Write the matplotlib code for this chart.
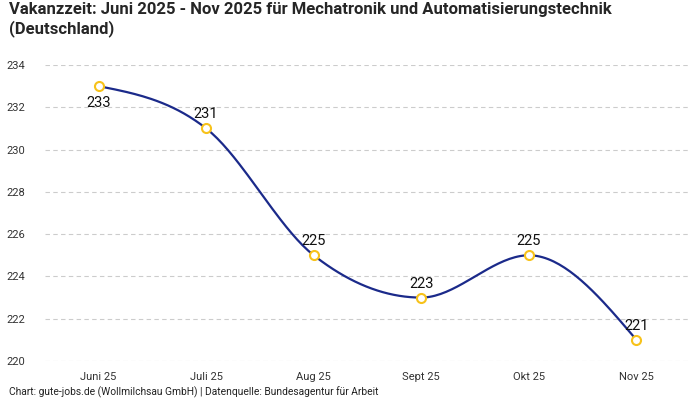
import numpy as np
import matplotlib.pyplot as plt

months = ["Juni 25", "Juli 25", "Aug 25", "Sept 25", "Okt 25", "Nov 25"]
vakanz = [233, 231, 225, 223, 225, 221]
label_below = [True, False, False, False, False, False]

title = "Vakanzzeit: Juni 2025 - Nov 2025 für Mechatronik und Automatisierungstechnik\n(Deutschland)"
footer = "Chart: gute-jobs.de (Wollmilchsau GmbH) | Datenquelle: Bundesagentur für Arbeit"

plt.rcParams['font.family'] = ['Roboto', 'DejaVu Sans']


def monotone_curve(y, n=40):
    # monotone cubic like d3.curveMonotoneX, unit spacing
    y = np.asarray(y, dtype=float)
    s = np.diff(y)
    t = np.zeros(len(y))
    for i in range(1, len(y) - 1):
        s0, s1 = s[i - 1], s[i]
        p = (s0 + s1) / 2
        t[i] = (np.sign(s0) + np.sign(s1)) * min(abs(s0), abs(s1), 0.5 * abs(p))
    t[0] = (3 * s[0] - t[1]) / 2
    t[-1] = (3 * s[-1] - t[-2]) / 2
    xs, ys = [], []
    u = np.linspace(0, 1, n)
    h00 = 2 * u**3 - 3 * u**2 + 1
    h10 = u**3 - 2 * u**2 + u
    h01 = -2 * u**3 + 3 * u**2
    h11 = u**3 - u**2
    for i in range(len(y) - 1):
        xs.append(i + u)
        ys.append(h00 * y[i] + h10 * t[i] + h01 * y[i + 1] + h11 * t[i + 1])
    return np.concatenate(xs), np.concatenate(ys)


fig = plt.figure(figsize=(7, 4), dpi=100)
ax = fig.add_axes([0.064, 0.0975, 0.922, 0.74])

x = np.arange(len(months))
cx, cy = monotone_curve(vakanz)
ax.plot(cx, cy, color="#1b2a8a", lw=1.6, zorder=2)
ax.plot(x, vakanz, "o", ms=6.5, mfc="white", mec="#f7c21a", mew=1.5, zorder=3)

for xi, v, below in zip(x, vakanz, label_below):
    ax.annotate(str(v), (xi, v), xytext=(0, -7 if below else 5), textcoords="offset points",
                ha="center", va="top" if below else "bottom", fontsize=10.5, color="#111111")

ax.set_xlim(-0.5, 5.5)
ax.set_ylim(220, 234)
ax.set_yticks(range(220, 235, 2))
ax.set_xticks(x)
ax.set_xticklabels(months)
ax.tick_params(length=0, labelsize=8, colors="#333333", pad=8)
ax.tick_params(axis="y", pad=14)
ax.grid(axis="y", color="#cccccc", ls=(0, (4, 3)), lw=0.8)
ax.set_axisbelow(True)
for sp in ax.spines.values():
    sp.set_visible(False)

fig.text(0.013, 0.995, title, ha="left", va="top", fontsize=12, fontweight="bold",
         color="#262626", linespacing=1.25)
fig.text(0.013, 0.004, footer, ha="left", va="bottom", fontsize=7.4, color="#222222")

fig.savefig("out.png", dpi=100)
